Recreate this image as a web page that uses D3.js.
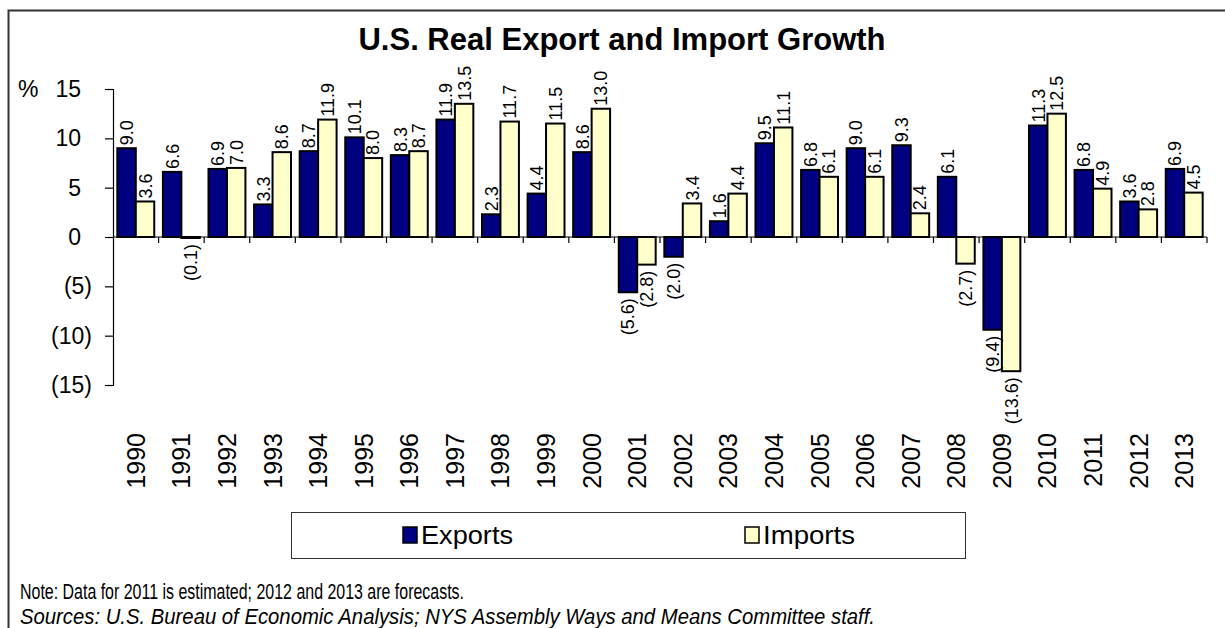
<!DOCTYPE html>
<html>
<head>
<meta charset="utf-8">
<script src="https://cdn.jsdelivr.net/npm/d3@7"></script>
<style>
  body { margin: 0; background: #fff; }
  text { font-family: "Liberation Sans", Arial, sans-serif; fill: #000; }
</style>
</head>
<body>
<div id="container"></div>
<script>
const years = ["1990","1991","1992","1993","1994","1995","1996","1997","1998","1999","2000","2001",
               "2002","2003","2004","2005","2006","2007","2008","2009","2010","2011","2012","2013"];
const exportsGrowth = [9.0, 6.6, 6.9, 3.3, 8.7, 10.1, 8.3, 11.9, 2.3, 4.4, 8.6, -5.6,
                       -2.0, 1.6, 9.5, 6.8, 9.0, 9.3, 6.1, -9.4, 11.3, 6.8, 3.6, 6.9];
const importsGrowth = [3.6, -0.1, 7.0, 8.6, 11.9, 8.0, 8.7, 13.5, 11.7, 11.5, 13.0, -2.8,
                       3.4, 4.4, 11.1, 6.1, 6.1, 2.4, -2.7, -13.6, 12.5, 4.9, 2.8, 4.5];
const seriesNames = ["Exports", "Imports"];
const yTicks = [15, 10, 5, 0, -5, -10, -15];

const w = 1225;
const h = 628;
const colors = {Exports: "#000080", Imports: "#ffffcc"};

const data = years.map((y, i) => ({year: y, Exports: exportsGrowth[i], Imports: importsGrowth[i]}));

const fmt = (v) => v < 0 ? "(" + Math.abs(v).toFixed(1) + ")" : v.toFixed(1);
const fmtTick = (v) => v < 0 ? "(" + Math.abs(v) + ")" : String(v);

const svg = d3.select("#container")
              .append("svg")
              .attr("width", w)
              .attr("height", h);

svg.append("rect").attr("width", w).attr("height", h).attr("fill", "#fff");

// outer frame
svg.append("rect")
   .attr("x", 8.5).attr("y", 10.5)
   .attr("width", 1240).attr("height", 660)
   .attr("fill", "none")
   .attr("stroke", "#333")
   .attr("stroke-width", 2);

svg.append("text")
   .attr("x", 622)
   .attr("y", 50)
   .attr("text-anchor", "middle")
   .style("font-weight", "bold")
   .style("font-size", "31px")
   .text("U.S. Real Export and Import Growth");

const xScale = d3.scaleBand()
                 .domain(years)
                 .range([113, 1207])
                 .paddingInner(0.19)
                 .paddingOuter(0.095);
const xInner = d3.scaleBand()
                 .domain(seriesNames)
                 .range([0, xScale.bandwidth()]);
const yScale = d3.scaleLinear()
                 .domain([-15, 15])
                 .range([385, 89]);

// y axis
const yAxis = d3.axisLeft(yScale).tickValues(yTicks).tickSize(8).tickFormat(fmtTick);
const gy = svg.append("g")
              .attr("transform", "translate(113,0)")
              .call(yAxis);
gy.select(".domain").attr("stroke", "#000").attr("stroke-width", 1.2);
gy.selectAll(".tick line").attr("stroke", "#000").attr("stroke-width", 1.2);
gy.selectAll(".tick text")
  .attr("x", (d) => d < 0 ? -21 : -32)
  .style("font-size", "23px")
  .style("font-family", "'Liberation Sans', Arial, sans-serif")
  .attr("fill", "#000");

svg.append("text")
   .attr("x", 18)
   .attr("y", yScale(15) + 8)
   .style("font-size", "23px")
   .text("%");

// bars
const groups = svg.selectAll("g.year")
                  .data(data)
                  .enter()
                  .append("g")
                  .attr("class", "year")
                  .attr("transform", (d) => "translate(" + xScale(d.year) + ",0)");

groups.selectAll("rect")
      .data((d) => seriesNames.map((k) => ({key: k, value: d[k]})))
      .enter()
      .append("rect")
      .attr("x", (d) => xInner(d.key))
      .attr("y", (d) => yScale(Math.max(0, d.value)))
      .attr("width", xInner.bandwidth())
      .attr("height", (d) => Math.abs(yScale(d.value) - yScale(0)))
      .attr("fill", (d) => colors[d.key])
      .attr("stroke", "#000")
      .attr("stroke-width", 2);

groups.selectAll("text")
      .data((d) => seriesNames.map((k) => ({key: k, value: d[k]})))
      .enter()
      .append("text")
      .attr("transform", (d) => {
        const cx = xInner(d.key) + xInner.bandwidth() / 2;
        const yy = d.value >= 0 ? yScale(d.value) - 3 : yScale(d.value) + 6;
        return "translate(" + cx + "," + yy + ") rotate(-90)";
      })
      .attr("dy", "0.36em")
      .attr("text-anchor", (d) => d.value >= 0 ? "start" : "end")
      .style("font-size", "18px")
      .text((d) => fmt(d.value));

// zero line with category ticks
svg.append("line")
   .attr("x1", 113).attr("x2", 1207)
   .attr("y1", yScale(0)).attr("y2", yScale(0))
   .attr("stroke", "#000").attr("stroke-width", 1.2);
const step = xScale.step();
svg.selectAll("line.cat")
   .data(years)
   .enter()
   .append("line")
   .attr("class", "cat")
   .attr("x1", (d) => xScale(d) - xScale.paddingOuter() * step + step)
   .attr("x2", (d) => xScale(d) - xScale.paddingOuter() * step + step)
   .attr("y1", yScale(0))
   .attr("y2", yScale(0) + 6)
   .attr("stroke", "#000").attr("stroke-width", 1.2);

// year labels
svg.selectAll("text.yr")
   .data(years)
   .enter()
   .append("text")
   .attr("class", "yr")
   .attr("transform", (d) => "translate(" + (xScale(d) + xScale.bandwidth() / 2) + ",433) rotate(-90)")
   .attr("dy", "0.36em")
   .attr("text-anchor", "end")
   .style("font-size", "25px")
   .text((d) => d);

// legend
svg.append("rect")
   .attr("x", 291.5).attr("y", 512.5)
   .attr("width", 674).attr("height", 46)
   .attr("fill", "#fff")
   .attr("stroke", "#333")
   .attr("stroke-width", 1);
const legendX = {Exports: 403, Imports: 745};
const legend = svg.selectAll("g.legend")
                  .data(seriesNames)
                  .enter()
                  .append("g")
                  .attr("class", "legend")
                  .attr("transform", (d) => "translate(" + legendX[d] + ",527)");
legend.append("rect")
      .attr("width", 14).attr("height", 16)
      .attr("fill", (d) => colors[d])
      .attr("stroke", "#000").attr("stroke-width", 1.5);
legend.append("text")
      .attr("x", 18)
      .attr("y", 17)
      .attr("textLength", 92)
      .attr("lengthAdjust", "spacingAndGlyphs")
      .style("font-size", "25px")
      .text((d) => d);

svg.append("text")
   .attr("x", 20).attr("y", 599)
   .attr("textLength", 444)
   .attr("lengthAdjust", "spacingAndGlyphs")
   .style("font-size", "22px")
   .text("Note: Data for 2011 is estimated; 2012 and 2013 are forecasts.");
svg.append("text")
   .attr("x", 20).attr("y", 624)
   .attr("textLength", 855)
   .attr("lengthAdjust", "spacingAndGlyphs")
   .style("font-size", "22px")
   .style("font-style", "italic")
   .text("Sources: U.S. Bureau of Economic Analysis; NYS Assembly Ways and Means Committee staff.");
</script>
</body>
</html>
